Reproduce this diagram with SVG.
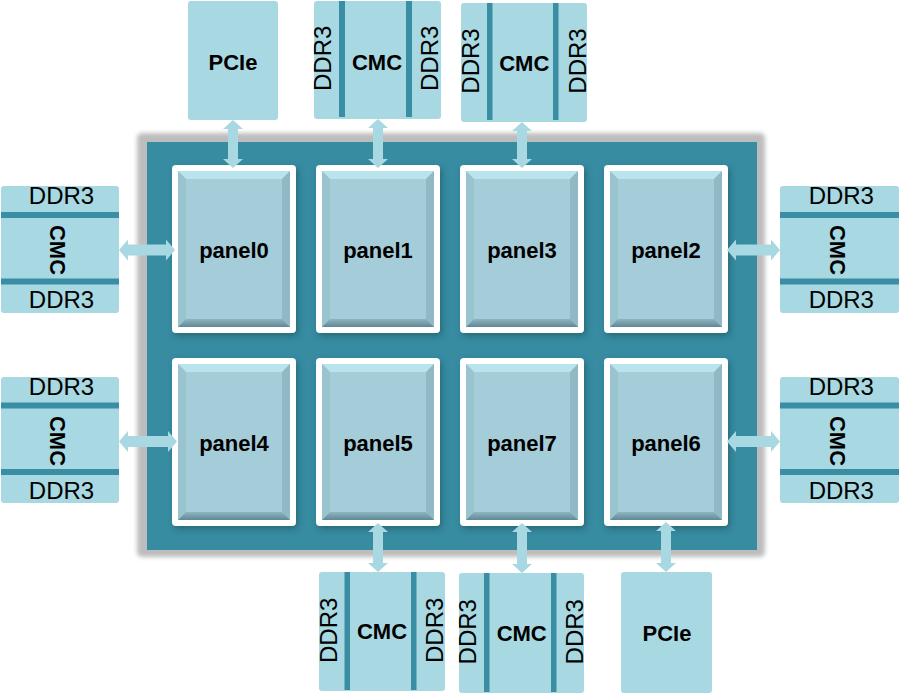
<svg xmlns="http://www.w3.org/2000/svg" xmlns:xlink="http://www.w3.org/1999/xlink" width="900" height="693" viewBox="0 0 900 693">
<style>
.box{fill:#a8d8e2}
.bar{fill:#3a8ea3}
.arr{fill:#a8d8e2}
.t{font-family:"Liberation Sans",Arial,sans-serif;fill:#000;text-anchor:middle}
.d{font-size:24px}
.b{font-size:22px;font-weight:bold}
</style>
<defs>
<filter id="blur" x="-5%" y="-5%" width="110%" height="110%"><feGaussianBlur stdDeviation="2"/></filter>
<filter id="sh" x="-10%" y="-10%" width="125%" height="125%"><feDropShadow dx="2" dy="3" stdDeviation="3" flood-color="#1d4f5c" flood-opacity="0.6"/></filter>
<linearGradient id="botg" x1="0" y1="0" x2="0" y2="1"><stop offset="0" stop-color="#8db5c0"/><stop offset="1" stop-color="#5e8995"/></linearGradient>
<g id="panelShape">
<rect x="0" y="0" width="124" height="168" rx="4" fill="#fff" filter="url(#sh)"/>
<rect x="6" y="6" width="112" height="156" fill="#a4cdd9"/>
<polygon points="6,6 118,6 110,14 14,14" fill="#b9e3ed"/>
<polygon points="6,6 14,14 14,154 6,162" fill="#98c3cf"/>
<polygon points="118,6 118,162 110,154 110,14" fill="#8fb9c5"/>
<polygon points="6,162 14,154 110,154 118,162" fill="url(#botg)"/>
</g>
</defs>
<rect x="137" y="133" width="628" height="424" rx="5" fill="#bdbdbd" filter="url(#blur)"/>
<rect x="147" y="142" width="610" height="408" fill="#378ca1"/>

<g id="panel0" transform="translate(172,165)"><use xlink:href="#panelShape"/><text class="t b" x="62" y="93">panel0</text></g>
<g id="panel1" transform="translate(316,165)"><use xlink:href="#panelShape"/><text class="t b" x="62" y="93">panel1</text></g>
<g id="panel3" transform="translate(460,165)"><use xlink:href="#panelShape"/><text class="t b" x="62" y="93">panel3</text></g>
<g id="panel2" transform="translate(604,165)"><use xlink:href="#panelShape"/><text class="t b" x="62" y="93">panel2</text></g>
<g id="panel4" transform="translate(172,358)"><use xlink:href="#panelShape"/><text class="t b" x="62" y="93">panel4</text></g>
<g id="panel5" transform="translate(316,358)"><use xlink:href="#panelShape"/><text class="t b" x="62" y="93">panel5</text></g>
<g id="panel7" transform="translate(460,358)"><use xlink:href="#panelShape"/><text class="t b" x="62" y="93">panel7</text></g>
<g id="panel6" transform="translate(604,358)"><use xlink:href="#panelShape"/><text class="t b" x="62" y="93">panel6</text></g>

<g id="pcie-top">
<rect class="box" x="188" y="1" width="90" height="119" rx="3"/>
<text class="t b" x="233" y="69.5">PCIe</text>
</g>
<g id="cmc-top1">
<rect class="box" x="314" y="1" width="127" height="118" rx="3"/>
<rect class="bar" x="339" y="1" width="6" height="116"/>
<rect class="bar" x="406" y="1" width="6" height="116"/>
<text class="t d" x="331.5" y="58.3" transform="rotate(-90 331.5 58.3)">DDR3</text>
<text class="t b" x="377" y="69.5">CMC</text>
<text class="t d" x="438" y="58.3" transform="rotate(-90 438 58.3)">DDR3</text>
</g>
<g id="cmc-top2">
<rect class="box" x="461" y="3" width="126" height="119" rx="3"/>
<rect class="bar" x="487" y="3" width="5.5" height="117"/>
<rect class="bar" x="553" y="3" width="5.5" height="117"/>
<text class="t d" x="479.3" y="61" transform="rotate(-90 479.3 61)">DDR3</text>
<text class="t b" x="524.3" y="71">CMC</text>
<text class="t d" x="585.5" y="61" transform="rotate(-90 585.5 61)">DDR3</text>
</g>
<g id="cmc-bot1">
<rect class="box" x="319" y="572" width="126" height="119" rx="3"/>
<rect class="bar" x="344.5" y="572" width="5.5" height="118"/>
<rect class="bar" x="411" y="572" width="5.5" height="118"/>
<text class="t d" x="336.7" y="630.3" transform="rotate(-90 336.7 630.3)">DDR3</text>
<text class="t b" x="382" y="639.3">CMC</text>
<text class="t d" x="443.3" y="630.3" transform="rotate(-90 443.3 630.3)">DDR3</text>
</g>
<g id="cmc-bot2">
<rect class="box" x="459" y="573" width="125" height="120" rx="3"/>
<rect class="bar" x="484" y="573" width="5.5" height="119"/>
<rect class="bar" x="551" y="573" width="5.5" height="119"/>
<text class="t d" x="475.7" y="631.7" transform="rotate(-90 475.7 631.7)">DDR3</text>
<text class="t b" x="521.7" y="640.7">CMC</text>
<text class="t d" x="582.7" y="631.7" transform="rotate(-90 582.7 631.7)">DDR3</text>
</g>
<g id="pcie-bot">
<rect class="box" x="621" y="572" width="91" height="121" rx="3"/>
<text class="t b" x="667" y="641">PCIe</text>
</g>
<g id="cmc-left1">
<rect class="box" x="1" y="186" width="118" height="127" rx="3"/>
<rect class="bar" x="1" y="212" width="118" height="6"/>
<rect class="bar" x="1" y="278.5" width="118" height="6"/>
<text class="t d" x="61.5" y="203.5">DDR3</text>
<text class="t b" x="50" y="250" transform="rotate(90 50 250)">CMC</text>
<text class="t d" x="61.5" y="308">DDR3</text>
</g>
<g id="cmc-left2">
<rect class="box" x="1" y="377" width="118" height="126" rx="3"/>
<rect class="bar" x="1" y="402.5" width="118" height="6"/>
<rect class="bar" x="1" y="469" width="118" height="6"/>
<text class="t d" x="61.5" y="394.5">DDR3</text>
<text class="t b" x="50" y="441" transform="rotate(90 50 441)">CMC</text>
<text class="t d" x="61.5" y="498.7">DDR3</text>
</g>
<g id="cmc-right1">
<rect class="box" x="780" y="186" width="119" height="127" rx="3"/>
<rect class="bar" x="780" y="212" width="119" height="6"/>
<rect class="bar" x="780" y="278.5" width="119" height="6"/>
<text class="t d" x="841.3" y="203.5">DDR3</text>
<text class="t b" x="830" y="250" transform="rotate(90 830 250)">CMC</text>
<text class="t d" x="841.3" y="308">DDR3</text>
</g>
<g id="cmc-right2">
<rect class="box" x="780" y="377" width="119" height="126" rx="3"/>
<rect class="bar" x="780" y="402.5" width="119" height="6"/>
<rect class="bar" x="780" y="469" width="119" height="6"/>
<text class="t d" x="841.3" y="394.5">DDR3</text>
<text class="t b" x="830" y="441" transform="rotate(90 830 441)">CMC</text>
<text class="t d" x="841.3" y="498.7">DDR3</text>
</g>

<g id="connectors">
<polygon class="arr" points="233,120 243,129 238,129 238,159 243,159 233,168 223,159 228,159 228,129 223,129"/>
<polygon class="arr" points="378,119 388,128 383,128 383,159 388,159 378,168 368,159 373,159 373,128 368,128"/>
<polygon class="arr" points="522,122 532,131 527,131 527,159 532,159 522,168 512,159 517,159 517,131 512,131"/>
<polygon class="arr" points="378,523 388,532 383,532 383,563 388,563 378,572 368,563 373,563 373,532 368,532"/>
<polygon class="arr" points="522,523 532,532 527,532 527,564 532,564 522,573 512,564 517,564 517,532 512,532"/>
<polygon class="arr" points="666,522 676,531 671,531 671,563 676,563 666,572 656,563 661,563 661,531 656,531"/>
<polygon class="arr" points="119,250 128,239.5 128,244.5 166,244.5 166,239.5 175,250 166,260.5 166,255.5 128,255.5 128,260.5"/>
<polygon class="arr" points="119,441.5 128,431 128,436 168,436 168,431 177,441.5 168,452 168,447 128,447 128,452"/>
<polygon class="arr" points="727,250 736,239.5 736,244.5 771,244.5 771,239.5 780,250 771,260.5 771,255.5 736,255.5 736,260.5"/>
<polygon class="arr" points="727,441.5 736,431 736,436 771,436 771,431 780,441.5 771,452 771,447 736,447 736,452"/>
</g>
</svg>
